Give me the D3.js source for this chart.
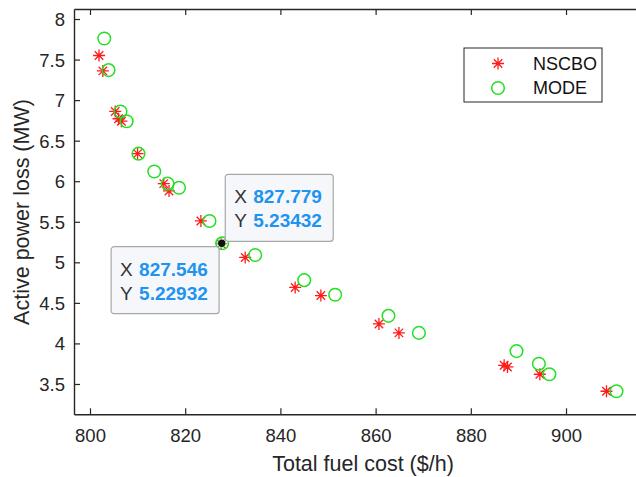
<!DOCTYPE html>
<html>
<head>
<meta charset="utf-8">
<script src="https://cdn.jsdelivr.net/npm/d3@7"></script>
<style>
  body { margin: 0; background: #fff; }
  svg { display: block; font-family: "Liberation Sans", Arial, sans-serif; }
</style>
</head>
<body>
<div id="chart"></div>
<script>
// NSCBO pareto front (fuel cost $/h, power loss MW)
var nscboCost = [801.9, 802.7, 805.3, 806.0, 806.6, 810.0, 815.5, 816.6, 823.3, 827.546, 832.6, 843.1, 848.5, 860.7, 864.9, 887.0, 887.7, 894.5, 908.5];
var nscboLoss = [7.55, 7.36, 6.86, 6.77, 6.74, 6.34, 5.97, 5.88, 5.51, 5.22932, 5.06, 4.69, 4.59, 4.24, 4.13, 3.73, 3.71, 3.62, 3.41];
// MODE pareto front
var modeCost = [803.0, 803.9, 806.4, 807.7, 810.2, 813.5, 816.3, 818.7, 825.1, 827.779, 834.7, 845.0, 851.5, 862.7, 869.1, 889.6, 894.3, 896.5, 910.6];
var modeLoss = [7.76, 7.37, 6.86, 6.74, 6.34, 6.12, 5.97, 5.92, 5.51, 5.23432, 5.09, 4.78, 4.60, 4.34, 4.13, 3.905, 3.75, 3.62, 3.41];

var xTicks = [800, 820, 840, 860, 880, 900];
var yTicks = [3.5, 4, 4.5, 5, 5.5, 6, 6.5, 7, 7.5, 8];

// data tips shown on the figure
var tips = [
  {x: 827.779, y: 5.23432, side: "upperRight"},
  {x: 827.546, y: 5.22932, side: "lowerLeft"}
];

var width = 636, height = 477;
var axisColor = "#262626";

var svg = d3.select("#chart").append("svg")
  .attr("width", width)
  .attr("height", height);

var x = d3.scaleLinear().domain([796.64, 914.7]).range([74, 636]);
var y = d3.scaleLinear().domain([3.126, 8.1235]).range([414.3, 9]);

var nscbo = nscboCost.map(function(c, i) { return {x: c, y: nscboLoss[i]}; });
var mode = modeCost.map(function(c, i) { return {x: c, y: modeLoss[i]}; });

// axes
var xAxisG = svg.append("g")
  .attr("transform", "translate(0," + y.range()[0] + ")")
  .call(d3.axisBottom(x).tickValues(xTicks).tickSizeInner(-6).tickSizeOuter(0));
var topAxisG = svg.append("g")
  .attr("transform", "translate(0," + y.range()[1] + ")")
  .call(d3.axisTop(x).tickValues(xTicks).tickSizeInner(-6).tickSizeOuter(0).tickFormat(""));
var yAxisG = svg.append("g")
  .attr("transform", "translate(" + x.range()[0] + ",0)")
  .call(d3.axisLeft(y).tickValues(yTicks).tickSizeInner(-6).tickSizeOuter(0).tickFormat(d3.format("")));

[xAxisG, topAxisG, yAxisG].forEach(function(g) {
  g.select(".domain").attr("stroke", axisColor).attr("stroke-width", 1.4);
  g.selectAll(".tick line").attr("stroke", axisColor).attr("stroke-width", 1.2);
  g.selectAll("text")
    .attr("fill", axisColor)
    .attr("font-size", "18.5px")
    .attr("font-family", "Liberation Sans, Arial, sans-serif");
});
xAxisG.selectAll(".tick text").attr("y", 21).attr("dy", "0.35em");
yAxisG.selectAll(".tick text").attr("x", -9).attr("dy", "0.35em");

// axis titles
svg.append("text")
  .attr("x", 363)
  .attr("y", 471)
  .attr("text-anchor", "middle")
  .attr("font-size", "21.5px")
  .attr("fill", axisColor)
  .text("Total fuel cost ($/h)");

svg.append("text")
  .attr("transform", "translate(29,212) rotate(-90)")
  .attr("text-anchor", "middle")
  .attr("font-size", "21.5px")
  .attr("fill", axisColor)
  .text("Active power loss (MW)");

// asterisk marker path
function star(r) {
  var d = r * Math.SQRT1_2;
  return "M" + (-r) + ",0L" + r + ",0M0," + (-r) + "L0," + r +
    "M" + (-d) + "," + (-d) + "L" + d + "," + d +
    "M" + (-d) + "," + d + "L" + d + "," + (-d);
}

var plot = svg.append("g");

plot.selectAll(".nscbo")
  .data(nscbo)
  .enter()
  .append("path")
  .attr("class", "nscbo")
  .attr("d", star(6))
  .attr("transform", function(d) { return "translate(" + x(d.x) + "," + y(d.y) + ")"; })
  .attr("fill", "none")
  .attr("stroke", "#ff1a1a")
  .attr("stroke-width", 1.3);

plot.selectAll(".mode")
  .data(mode)
  .enter()
  .append("circle")
  .attr("class", "mode")
  .attr("cx", function(d) { return x(d.x); })
  .attr("cy", function(d) { return y(d.y); })
  .attr("r", 6.3)
  .attr("fill", "none")
  .attr("stroke", "#22e022")
  .attr("stroke-width", 1.5);

// data tips
var tipW = 108, tipH = 67;
var tipG = svg.append("g");
tips.forEach(function(t) {
  var px = x(t.x), py = y(t.y);
  var bx, by;
  if (t.side === "upperRight") { bx = px + 3; by = py - tipH - 2; }
  else { bx = px - tipW - 2; by = py + 3; }
  var g = tipG.append("g").attr("transform", "translate(" + bx + "," + by + ")");
  g.append("rect")
    .attr("width", tipW)
    .attr("height", tipH)
    .attr("rx", 3)
    .attr("fill", "#f6f7fb")
    .attr("stroke", "#a8a8a8")
    .attr("stroke-width", 1.2);
  [["X", d3.format(".3f")(t.x)], ["Y", String(t.y)]].forEach(function(row, i) {
    g.append("text")
      .attr("x", 9)
      .attr("y", 29 + i * 24)
      .attr("font-size", "19px")
      .attr("fill", "#333")
      .text(row[0]);
    g.append("text")
      .attr("x", 28)
      .attr("y", 29 + i * 24)
      .attr("font-size", "19px")
      .attr("font-weight", "bold")
      .attr("fill", "#1e94f0")
      .text(row[1]);
  });
});
tipG.append("circle")
  .attr("cx", x(tips[0].x) - 0.5)
  .attr("cy", y(tips[0].y))
  .attr("r", 4.2)
  .attr("fill", "#111")
  .attr("stroke", "#bdf0bd")
  .attr("stroke-width", 1);

// legend
var legend = svg.append("g").attr("transform", "translate(464,48)");
legend.append("rect")
  .attr("width", 138)
  .attr("height", 54)
  .attr("fill", "#fff")
  .attr("stroke", axisColor)
  .attr("stroke-width", 1);
legend.append("path")
  .attr("d", star(6))
  .attr("transform", "translate(34,15.5)")
  .attr("fill", "none")
  .attr("stroke", "#ff1a1a")
  .attr("stroke-width", 1.3);
legend.append("circle")
  .attr("cx", 34)
  .attr("cy", 40)
  .attr("r", 6.3)
  .attr("fill", "none")
  .attr("stroke", "#22e022")
  .attr("stroke-width", 1.5);
legend.selectAll(".lab")
  .data(["NSCBO", "MODE"])
  .enter()
  .append("text")
  .attr("x", 69)
  .attr("y", function(d, i) { return 15.5 + i * 24.5; })
  .attr("dy", "0.35em")
  .attr("font-size", "18px")
  .attr("fill", "#111")
  .text(function(d) { return d; });
</script>
</body>
</html>
